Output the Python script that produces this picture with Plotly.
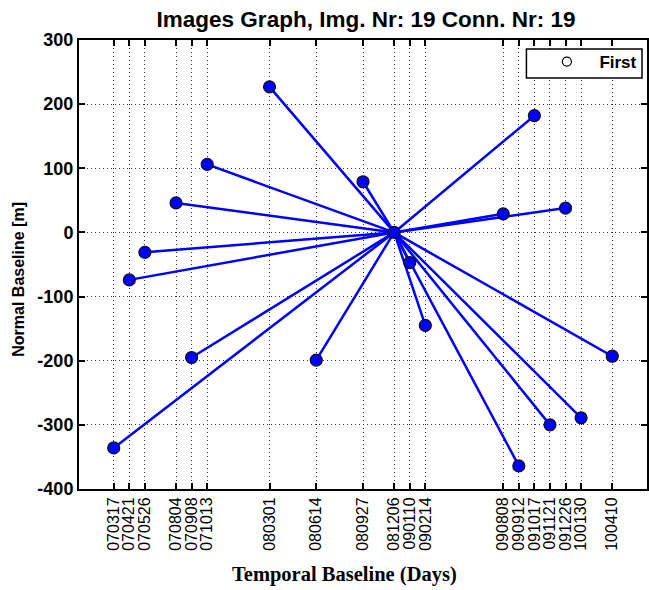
import plotly.graph_objects as go

# ---- data ----
acq_dates = ["070317", "070421", "070526", "070804", "070908", "071013",
             "080301", "080614", "080927", "081206", "090110", "090214",
             "090808", "090912", "091017", "091121", "091226", "100130", "100410"]
normal_baseline = [-336, -74, -31, 46, -195, 106,
                   227, -199, 79, 0, -47, -145,
                   29, -364, 182, -300, 38, -289, -193]
master_date = "081206"
y_ticks = [300, 200, 100, 0, -100, -200, -300, -400]
title_text = "Images Graph, Img. Nr: 19 Conn. Nr: 19"
x_title = "Temporal Baseline (Days)"
y_title = "Normal Baseline [m]"
legend_label = "First"


def iso(d):
    return "20%s-%s-%s" % (d[0:2], d[2:4], d[4:6])


x_iso = [iso(d) for d in acq_dates]
m_idx = acq_dates.index(master_date)
mx, my = x_iso[m_idx], normal_baseline[m_idx]

# connection lines master -> each slave
lx, ly = [], []
for xd, yv in zip(x_iso, normal_baseline):
    if xd == mx:
        continue
    lx += [mx, xd, None]
    ly += [my, yv, None]

BLUE = "#0000ff"
fig = go.Figure()
fig.add_trace(go.Scatter(x=lx, y=ly, mode="lines",
                         line=dict(color=BLUE, width=2.5),
                         showlegend=False, hoverinfo="skip"))
fig.add_trace(go.Scatter(x=x_iso, y=normal_baseline, mode="markers",
                         marker=dict(color=BLUE, size=12,
                                     line=dict(color="#101010", width=1.2)),
                         showlegend=False))
fig.add_trace(go.Scatter(x=[None], y=[None], mode="markers", name=legend_label,
                         marker=dict(symbol="circle-open", color="black", size=9,
                                     line=dict(width=1.2))))

W, H = 649, 590
PL, PT, PB, PR = 79, 40, 489, 649          # plot area in page pixels
pw = PR - PL
ph = PB - PT


def px(xp):   # page x -> paper x
    return (xp - PL) / pw


def py(yp):   # page y -> paper y
    return (PB - yp) / ph


fig.update_layout(
    width=W, height=H,
    margin=dict(l=PL, r=W - PR, t=PT, b=H - PB),
    paper_bgcolor="white", plot_bgcolor="white",
    font=dict(family="Liberation Sans, Arial, sans-serif", color="black"),
    title=dict(text=title_text, x=366 / W, xanchor="center",
               y=1 - 19 / H, yanchor="middle", yref="container",
               font=dict(size=22.5, weight="bold", color="black")),
    showlegend=True,
    legend=dict(x=px(536), xanchor="left", y=py(44), yanchor="top",
                bgcolor="rgba(0,0,0,0)", borderwidth=0,
                font=dict(size=17, weight="bold", color="black"),
                itemwidth=55, tracegroupgap=0),
)

# legend frame
fig.add_shape(type="rect", xref="paper", yref="paper",
              x0=px(528), x1=px(644), y0=py(78), y1=py(49),
              fillcolor="white", line=dict(color="black", width=1.5),
              layer="above")

fig.update_xaxes(
    type="date", range=["2006-12-29", "2010-06-27"],
    tickmode="array", tickvals=x_iso, ticktext=acq_dates,
    tickangle=-90, tickfont=dict(size=16, color="black"),
    ticks="inside", ticklen=6, tickwidth=1.5, tickcolor="black",
    showline=True, linecolor="black", linewidth=2, mirror="ticks",
    showgrid=True, gridcolor="#333333", gridwidth=1, griddash="1px,3px",
    zeroline=False,
)
fig.update_yaxes(
    range=[-400, 300], tickmode="array", tickvals=y_ticks,
    ticktext=[str(v) for v in y_ticks],
    tickfont=dict(size=18, weight="bold", color="black"),
    ticks="inside", ticklen=6, tickwidth=1.5, tickcolor="black",
    showline=True, linecolor="black", linewidth=2, mirror="ticks",
    showgrid=True, gridcolor="#333333", gridwidth=1, griddash="1px,3px",
    zeroline=False,
)

fig.add_annotation(text=x_title, xref="paper", yref="paper",
                   x=px(345), y=py(574),
                   xanchor="center", yanchor="middle", showarrow=False,
                   font=dict(family="Liberation Serif, Times New Roman, serif",
                             size=20.5, weight="bold", color="black"))
fig.add_annotation(text=y_title, xref="paper", yref="paper",
                   x=px(17.5), y=py(279), textangle=-90,
                   xanchor="center", yanchor="middle", showarrow=False,
                   font=dict(size=16, weight="bold", color="black"))

# remove the default 8px page margin so the figure fills the window exactly
fig.write_html("out.html",
               config={"displayModeBar": False},
               post_script="document.body.style.margin='0';"
                           "document.documentElement.style.overflow='hidden';")
